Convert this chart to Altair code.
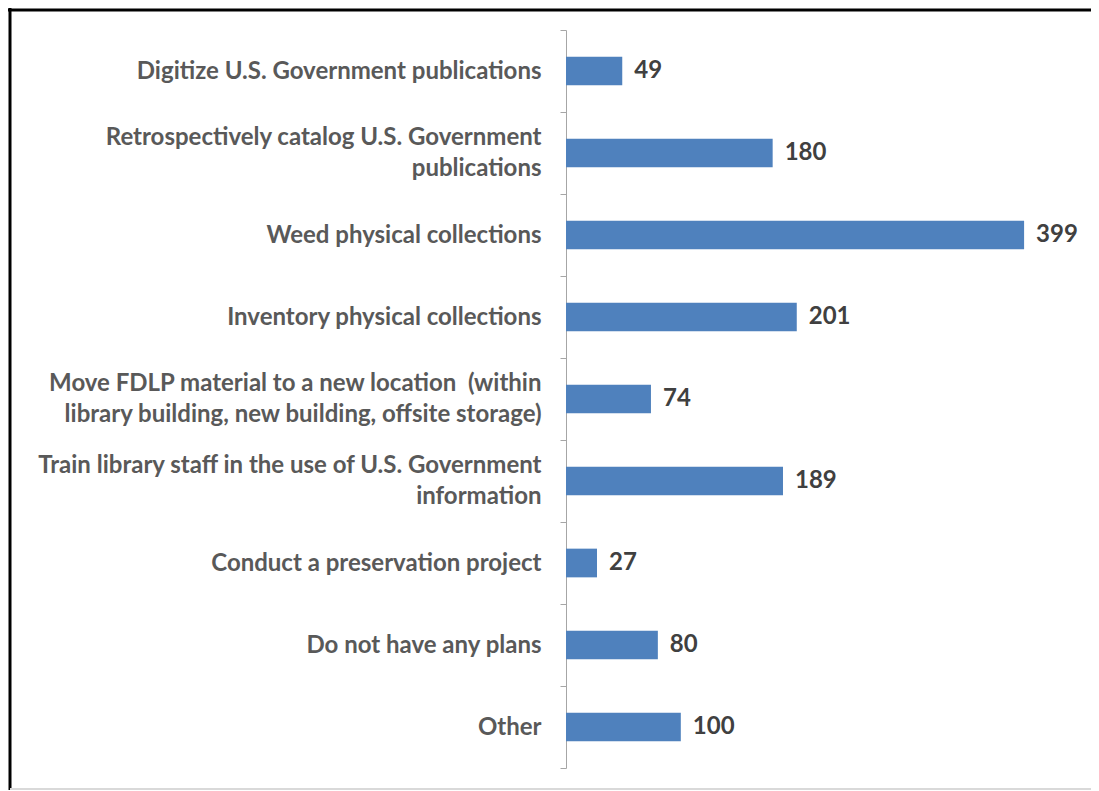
import altair as alt
import pandas as pd

categories = [
    "Digitize U.S. Government publications",
    "Retrospectively catalog U.S. Government\npublications",
    "Weed physical collections",
    "Inventory physical collections",
    "Move FDLP material to a new location \u00a0(within\nlibrary building, new building, offsite storage)",
    "Train library staff in the use of U.S. Government\ninformation",
    "Conduct a preservation project",
    "Do not have any plans",
    "Other",
]
counts = [49, 180, 399, 201, 74, 189, 27, 80, 100]

df = pd.DataFrame({"category": categories, "count": counts})
frame_df = pd.DataFrame({"k": [0]})

FONT = "Lato"
PLOT_W = 500
PLOT_H = 738
LINE_H = 31

y_enc = alt.Y(
    "category:N",
    sort=None,
    scale=alt.Scale(paddingInner=0, paddingOuter=0),
    axis=alt.Axis(
        title=None,
        labelExpr="split(datum.label, '\\n')",
        labelFont=FONT,
        labelFontSize=24,
        labelFontWeight="bold",
        labelColor="#595959",
        labelLineHeight=LINE_H,
        labelPadding=19,
        labelLimit=700,
        labelOffset={
            "condition": {"test": "indexof(datum.label, '\\n') >= 0", "value": -LINE_H / 2},
            "value": 0,
        },
        tickSize=6,
        tickColor="#A6A6A6",
        domainColor="#A6A6A6",
        tickBand="extent",
        grid=False,
    ),
)
x_enc = alt.X("count:Q", scale=alt.Scale(domain=[0, 435.5], nice=False), axis=None)

bars = alt.Chart(df).mark_bar(color="#4F81BD", height={"band": 0.35}).encode(x=x_enc, y=y_enc)
labels = alt.Chart(df).mark_text(
    align="left", baseline="middle", dx=12, font=FONT, fontSize=24,
    fontWeight="bold", color="#404040"
).encode(x=x_enc, y=alt.Y("category:N", sort=None), text="count:Q")

top_line = alt.Chart(frame_df).mark_rule(color="#000000", strokeWidth=3).encode(
    x=alt.value(-558), x2=alt.value(PLOT_W + 25), y=alt.value(-20)
)
left_line = alt.Chart(frame_df).mark_rule(color="#000000", strokeWidth=3).encode(
    x=alt.value(-556), y=alt.value(-22), y2=alt.value(PLOT_H + 22)
)
bottom_line = alt.Chart(frame_df).mark_rule(color="#D9D9D9", strokeWidth=2).encode(
    x=alt.value(-556), x2=alt.value(PLOT_W + 25), y=alt.value(PLOT_H + 21)
)

chart = alt.layer(bars, labels, top_line, left_line, bottom_line).properties(
    width=PLOT_W,
    height=PLOT_H,
    autosize=alt.AutoSizeParams(type="none"),
    padding={"left": 558, "top": 22, "right": 25, "bottom": 22},
    background="#FFFFFF",
).configure_view(stroke=None)

chart.save("out.html", embed_options={"renderer": "svg", "actions": False})
